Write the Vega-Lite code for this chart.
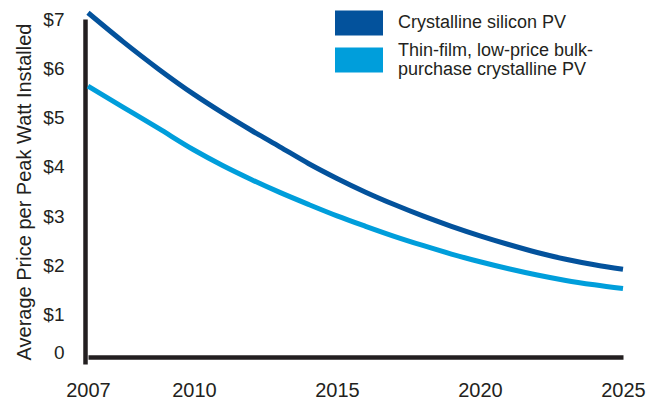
{
  "$schema": "https://vega.github.io/schema/vega-lite/v6.json",
  "autosize": "none",
  "width": 538,
  "height": 345,
  "padding": {"left": 85, "top": 19, "right": 26, "bottom": 39},
  "background": "white",
  "config": {
    "font": "Liberation Sans",
    "view": {"stroke": null}
  },
  "data": {
    "values": [
      {"year": 2007, "series": "Crystalline silicon PV", "price": 7.126},
      {"year": 2008, "series": "Crystalline silicon PV", "price": 6.536},
      {"year": 2009, "series": "Crystalline silicon PV", "price": 5.982},
      {"year": 2010, "series": "Crystalline silicon PV", "price": 5.470},
      {"year": 2011, "series": "Crystalline silicon PV", "price": 5.095},
      {"year": 2012, "series": "Crystalline silicon PV", "price": 4.743},
      {"year": 2013, "series": "Crystalline silicon PV", "price": 4.407},
      {"year": 2014, "series": "Crystalline silicon PV", "price": 4.069},
      {"year": 2015, "series": "Crystalline silicon PV", "price": 3.765},
      {"year": 2016, "series": "Crystalline silicon PV", "price": 3.486},
      {"year": 2017, "series": "Crystalline silicon PV", "price": 3.235},
      {"year": 2018, "series": "Crystalline silicon PV", "price": 3.004},
      {"year": 2019, "series": "Crystalline silicon PV", "price": 2.794},
      {"year": 2020, "series": "Crystalline silicon PV", "price": 2.601},
      {"year": 2021, "series": "Crystalline silicon PV", "price": 2.425},
      {"year": 2022, "series": "Crystalline silicon PV", "price": 2.263},
      {"year": 2023, "series": "Crystalline silicon PV", "price": 2.126},
      {"year": 2024, "series": "Crystalline silicon PV", "price": 2.014},
      {"year": 2025, "series": "Crystalline silicon PV", "price": 1.923},
      {"year": 2007, "series": "Thin-film, low-price bulk-purchase crystalline PV", "price": 5.638},
      {"year": 2008, "series": "Thin-film, low-price bulk-purchase crystalline PV", "price": 5.209},
      {"year": 2009, "series": "Thin-film, low-price bulk-purchase crystalline PV", "price": 4.779},
      {"year": 2010, "series": "Thin-film, low-price bulk-purchase crystalline PV", "price": 4.342},
      {"year": 2011, "series": "Thin-film, low-price bulk-purchase crystalline PV", "price": 4.028},
      {"year": 2012, "series": "Thin-film, low-price bulk-purchase crystalline PV", "price": 3.745},
      {"year": 2013, "series": "Thin-film, low-price bulk-purchase crystalline PV", "price": 3.482},
      {"year": 2014, "series": "Thin-film, low-price bulk-purchase crystalline PV", "price": 3.239},
      {"year": 2015, "series": "Thin-film, low-price bulk-purchase crystalline PV", "price": 3.006},
      {"year": 2016, "series": "Thin-film, low-price bulk-purchase crystalline PV", "price": 2.794},
      {"year": 2017, "series": "Thin-film, low-price bulk-purchase crystalline PV", "price": 2.591},
      {"year": 2018, "series": "Thin-film, low-price bulk-purchase crystalline PV", "price": 2.405},
      {"year": 2019, "series": "Thin-film, low-price bulk-purchase crystalline PV", "price": 2.231},
      {"year": 2020, "series": "Thin-film, low-price bulk-purchase crystalline PV", "price": 2.075},
      {"year": 2021, "series": "Thin-film, low-price bulk-purchase crystalline PV", "price": 1.933},
      {"year": 2022, "series": "Thin-film, low-price bulk-purchase crystalline PV", "price": 1.806},
      {"year": 2023, "series": "Thin-film, low-price bulk-purchase crystalline PV", "price": 1.696},
      {"year": 2024, "series": "Thin-film, low-price bulk-purchase crystalline PV", "price": 1.607},
      {"year": 2025, "series": "Thin-film, low-price bulk-purchase crystalline PV", "price": 1.530}
    ]
  },
  "mark": {"type": "line", "strokeWidth": 5, "interpolate": "monotone", "clip": false},
  "encoding": {
    "x": {
      "field": "year",
      "type": "quantitative",
      "scale": {"domain": [2007, 2010, 2025], "range": [3, 109, 538], "nice": false, "zero": false},
      "axis": {
        "title": null,
        "values": [2007, 2010, 2015, 2020, 2025],
        "format": "d",
        "labelFontSize": 20,
        "labelColor": "#231F20",
        "labelFlush": false,
        "labelOverlap": false,
        "labelPadding": 23,
        "ticks": false,
        "grid": false,
        "offset": -7,
        "domainColor": "#231F20",
        "domainWidth": 4.5
      }
    },
    "y": {
      "field": "price",
      "type": "quantitative",
      "scale": {"domain": [0, 7], "nice": false, "zero": true},
      "axis": {
        "title": "Average Price per Peak Watt Installed",
        "titleFontSize": 20,
        "titleFontWeight": "normal",
        "titleColor": "#231F20",
        "titlePadding": 8,
        "values": [0, 1, 2, 3, 4, 5, 6, 7],
        "labelExpr": "datum.value == 0 ? '0' : '$' + datum.value",
        "labelFontSize": 19,
        "labelColor": "#231F20",
        "labelPadding": 21,
        "labelFlush": false,
        "labelOverlap": false,
        "labelOffset": {"condition": {"test": "datum.value == 0", "value": -12}, "value": 0},
        "ticks": false,
        "grid": false,
        "domainColor": "#231F20",
        "domainWidth": 4.5
      }
    },
    "color": {
      "field": "series",
      "type": "nominal",
      "sort": ["Crystalline silicon PV", "Thin-film, low-price bulk-purchase crystalline PV"],
      "scale": {
        "domain": ["Crystalline silicon PV", "Thin-film, low-price bulk-purchase crystalline PV"],
        "range": ["#03529C", "#009EDB"]
      },
      "legend": {
        "title": null,
        "orient": "none",
        "legendX": 250,
        "legendY": -20,
        "symbolType": "M-1,-0.52H1V0.52H-1Z",
        "symbolSize": 2304,
        "symbolStrokeWidth": 0,
        "symbolOpacity": 1,
        "labelFontSize": 18,
        "labelColor": "#231F20",
        "labelOffset": 15,
        "labelLimit": 400,
        "rowPadding": 0,
        "padding": 0,
        "labelExpr": "datum.label == 'Thin-film, low-price bulk-purchase crystalline PV' ? ['Thin-film, low-price bulk-', 'purchase crystalline PV'] : datum.label",
        "encode": {
          "symbols": {"update": {"fill": {"scale": "color", "field": "value"}, "strokeWidth": {"value": 0}}},
          "labels": {"update": {
            "lineHeight": {"value": 19},
            "dy": [{"test": "datum.value == 'Thin-film, low-price bulk-purchase crystalline PV'", "value": -9}, {"value": 0}]
          }}
        }
      }
    }
  }
}
